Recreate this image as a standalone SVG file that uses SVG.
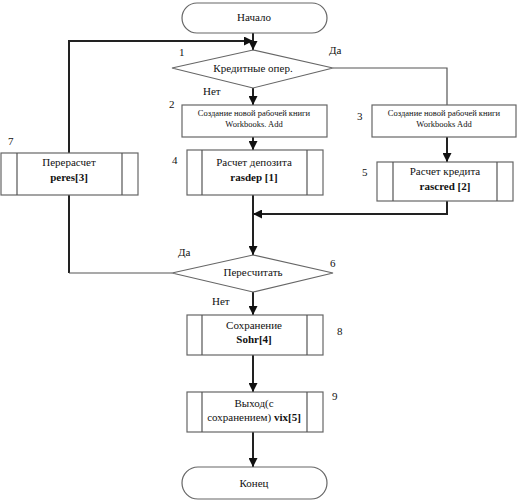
<svg xmlns="http://www.w3.org/2000/svg" width="520" height="501" viewBox="0 0 520 501">
<style>
.sh{fill:#fff;stroke:#666;stroke-width:1.2}
.ln{fill:none;stroke:#222;stroke-width:2}
.thin{fill:none;stroke:#555;stroke-width:1.2}
text{font-family:'Liberation Serif','Times New Roman',serif;fill:#111}
.t{font-size:11px;text-anchor:middle}
.s{font-size:8.5px;text-anchor:middle}
.b{font-weight:bold}
.n{font-size:11px}
</style>
<defs>
<marker id="ah" viewBox="0 0 10 10" refX="10" refY="5" markerWidth="9" markerHeight="9" markerUnits="userSpaceOnUse" orient="auto">
<path d="M0,0 L10,5 L0,10 z" fill="#111"/>
</marker>
</defs>
<rect width="520" height="501" fill="#fff"/>
<g id="connectors">
<path class="ln" d="M253,33 V50" marker-end="url(#ah)"/>
<path class="ln" d="M69,273 V41 H253" marker-end="url(#ah)"/>
<path class="thin" d="M333,68 H447 V105"/>
<path class="ln" d="M253,88 V105" marker-end="url(#ah)"/>
<path class="ln" d="M253,137 V150" marker-end="url(#ah)"/>
<path class="ln" d="M447,137 V162" marker-end="url(#ah)"/>
<path class="ln" d="M253,195 V255" marker-end="url(#ah)"/>
<path class="ln" d="M447,201 V214 H253" marker-end="url(#ah)"/>
<path class="thin" d="M172,273 H69"/>
<path class="ln" d="M253,292 V315" marker-end="url(#ah)"/>
<path class="ln" d="M253,355 V392" marker-end="url(#ah)"/>
<path class="ln" d="M253,432 V467" marker-end="url(#ah)"/>
</g>
<g id="start">
<rect class="sh" x="182" y="3" width="145" height="30" rx="15"/>
<text class="t" x="254" y="21" font-family="Liberation Serif, serif" font-size="12">Начало</text>
</g>
<g id="d1">
<polygon class="sh" points="253,50 333,68 253,88 172,68"/>
<text class="t" x="253" y="72" font-family="Liberation Serif, serif">Кредитные опер.</text>
<text class="n" x="179" y="56" font-family="Liberation Serif, serif" font-size="9">1</text>
<text class="n" x="329" y="54" font-family="Liberation Serif, serif" font-size="10">Да</text>
<text class="n" x="203" y="95" font-family="Liberation Serif, serif" font-size="10">Нет</text>
</g>
<g id="b2">
<rect class="sh" x="182" y="105" width="145" height="32"/>
<text class="s" x="254" y="116" font-family="Liberation Serif, serif">Создание новой рабочей книги</text>
<text class="s" x="254" y="127" font-family="Liberation Serif, serif">Workbooks. Add</text>
<text class="n" x="169" y="108" font-family="Liberation Serif, serif">2</text>
</g>
<g id="b3">
<rect class="sh" x="372" y="105" width="144" height="32"/>
<text class="s" x="444" y="116" font-family="Liberation Serif, serif">Создание новой рабочей книги</text>
<text class="s" x="444" y="127" font-family="Liberation Serif, serif">Workbooks Add</text>
<text class="n" x="357" y="120" font-family="Liberation Serif, serif">3</text>
</g>
<g id="b4">
<rect class="sh" x="187" y="150" width="136" height="45"/>
<path class="thin" d="M202,150 V195 M307,150 V195"/>
<text class="t" x="254" y="166" font-family="Liberation Serif, serif">Расчет депозита</text>
<text class="t b" x="254" y="181" font-family="Liberation Serif, serif">rasdep [1]</text>
<text class="n" x="172" y="164" font-family="Liberation Serif, serif">4</text>
</g>
<g id="b5">
<rect class="sh" x="377" y="162" width="136" height="39"/>
<path class="thin" d="M393,162 V201 M497,162 V201"/>
<text class="t" x="445" y="175" font-family="Liberation Serif, serif">Расчет кредита</text>
<text class="t b" x="445" y="190" font-family="Liberation Serif, serif">rascred [2]</text>
<text class="n" x="362" y="176" font-family="Liberation Serif, serif">5</text>
</g>
<g id="b7">
<rect class="sh" x="1" y="153" width="137" height="42"/>
<path class="thin" d="M17,153 V195 M122,153 V195"/>
<text class="t" x="69" y="166" font-family="Liberation Serif, serif">Перерасчет</text>
<text class="t b" x="69" y="181" font-family="Liberation Serif, serif">peres[3]</text>
<text class="n" x="8" y="145" font-family="Liberation Serif, serif">7</text>
</g>
<g id="d6">
<polygon class="sh" points="253,255 333,273 253,292 172,273"/>
<text class="t" x="253" y="276" font-family="Liberation Serif, serif">Пересчитать</text>
<text class="n" x="330" y="267" font-family="Liberation Serif, serif">6</text>
<text class="n" x="178" y="256" font-family="Liberation Serif, serif" font-size="10">Да</text>
<text class="n" x="212" y="305" font-family="Liberation Serif, serif" font-size="10">Нет</text>
</g>
<g id="b8">
<rect class="sh" x="187" y="315" width="136" height="40"/>
<path class="thin" d="M202,315 V355 M307,315 V355"/>
<text class="t" x="254" y="329" font-family="Liberation Serif, serif">Сохранение</text>
<text class="t b" x="254" y="343" font-family="Liberation Serif, serif">Sohr[4]</text>
<text class="n" x="337" y="335" font-family="Liberation Serif, serif">8</text>
</g>
<g id="b9">
<rect class="sh" x="187" y="392" width="136" height="40"/>
<path class="thin" d="M202,392 V432 M307,392 V432"/>
<text class="t" x="254" y="407" font-family="Liberation Serif, serif">Выход(с</text>
<text class="t" x="254" y="421" font-family="Liberation Serif, serif">сохранением) <tspan class="b">vix[5]</tspan></text>
<text class="n" x="332" y="400" font-family="Liberation Serif, serif">9</text>
</g>
<g id="end">
<rect class="sh" x="182" y="467" width="145" height="32" rx="16"/>
<text class="t" x="254" y="487" font-family="Liberation Serif, serif" font-size="12">Конец</text>
</g>
</svg>
